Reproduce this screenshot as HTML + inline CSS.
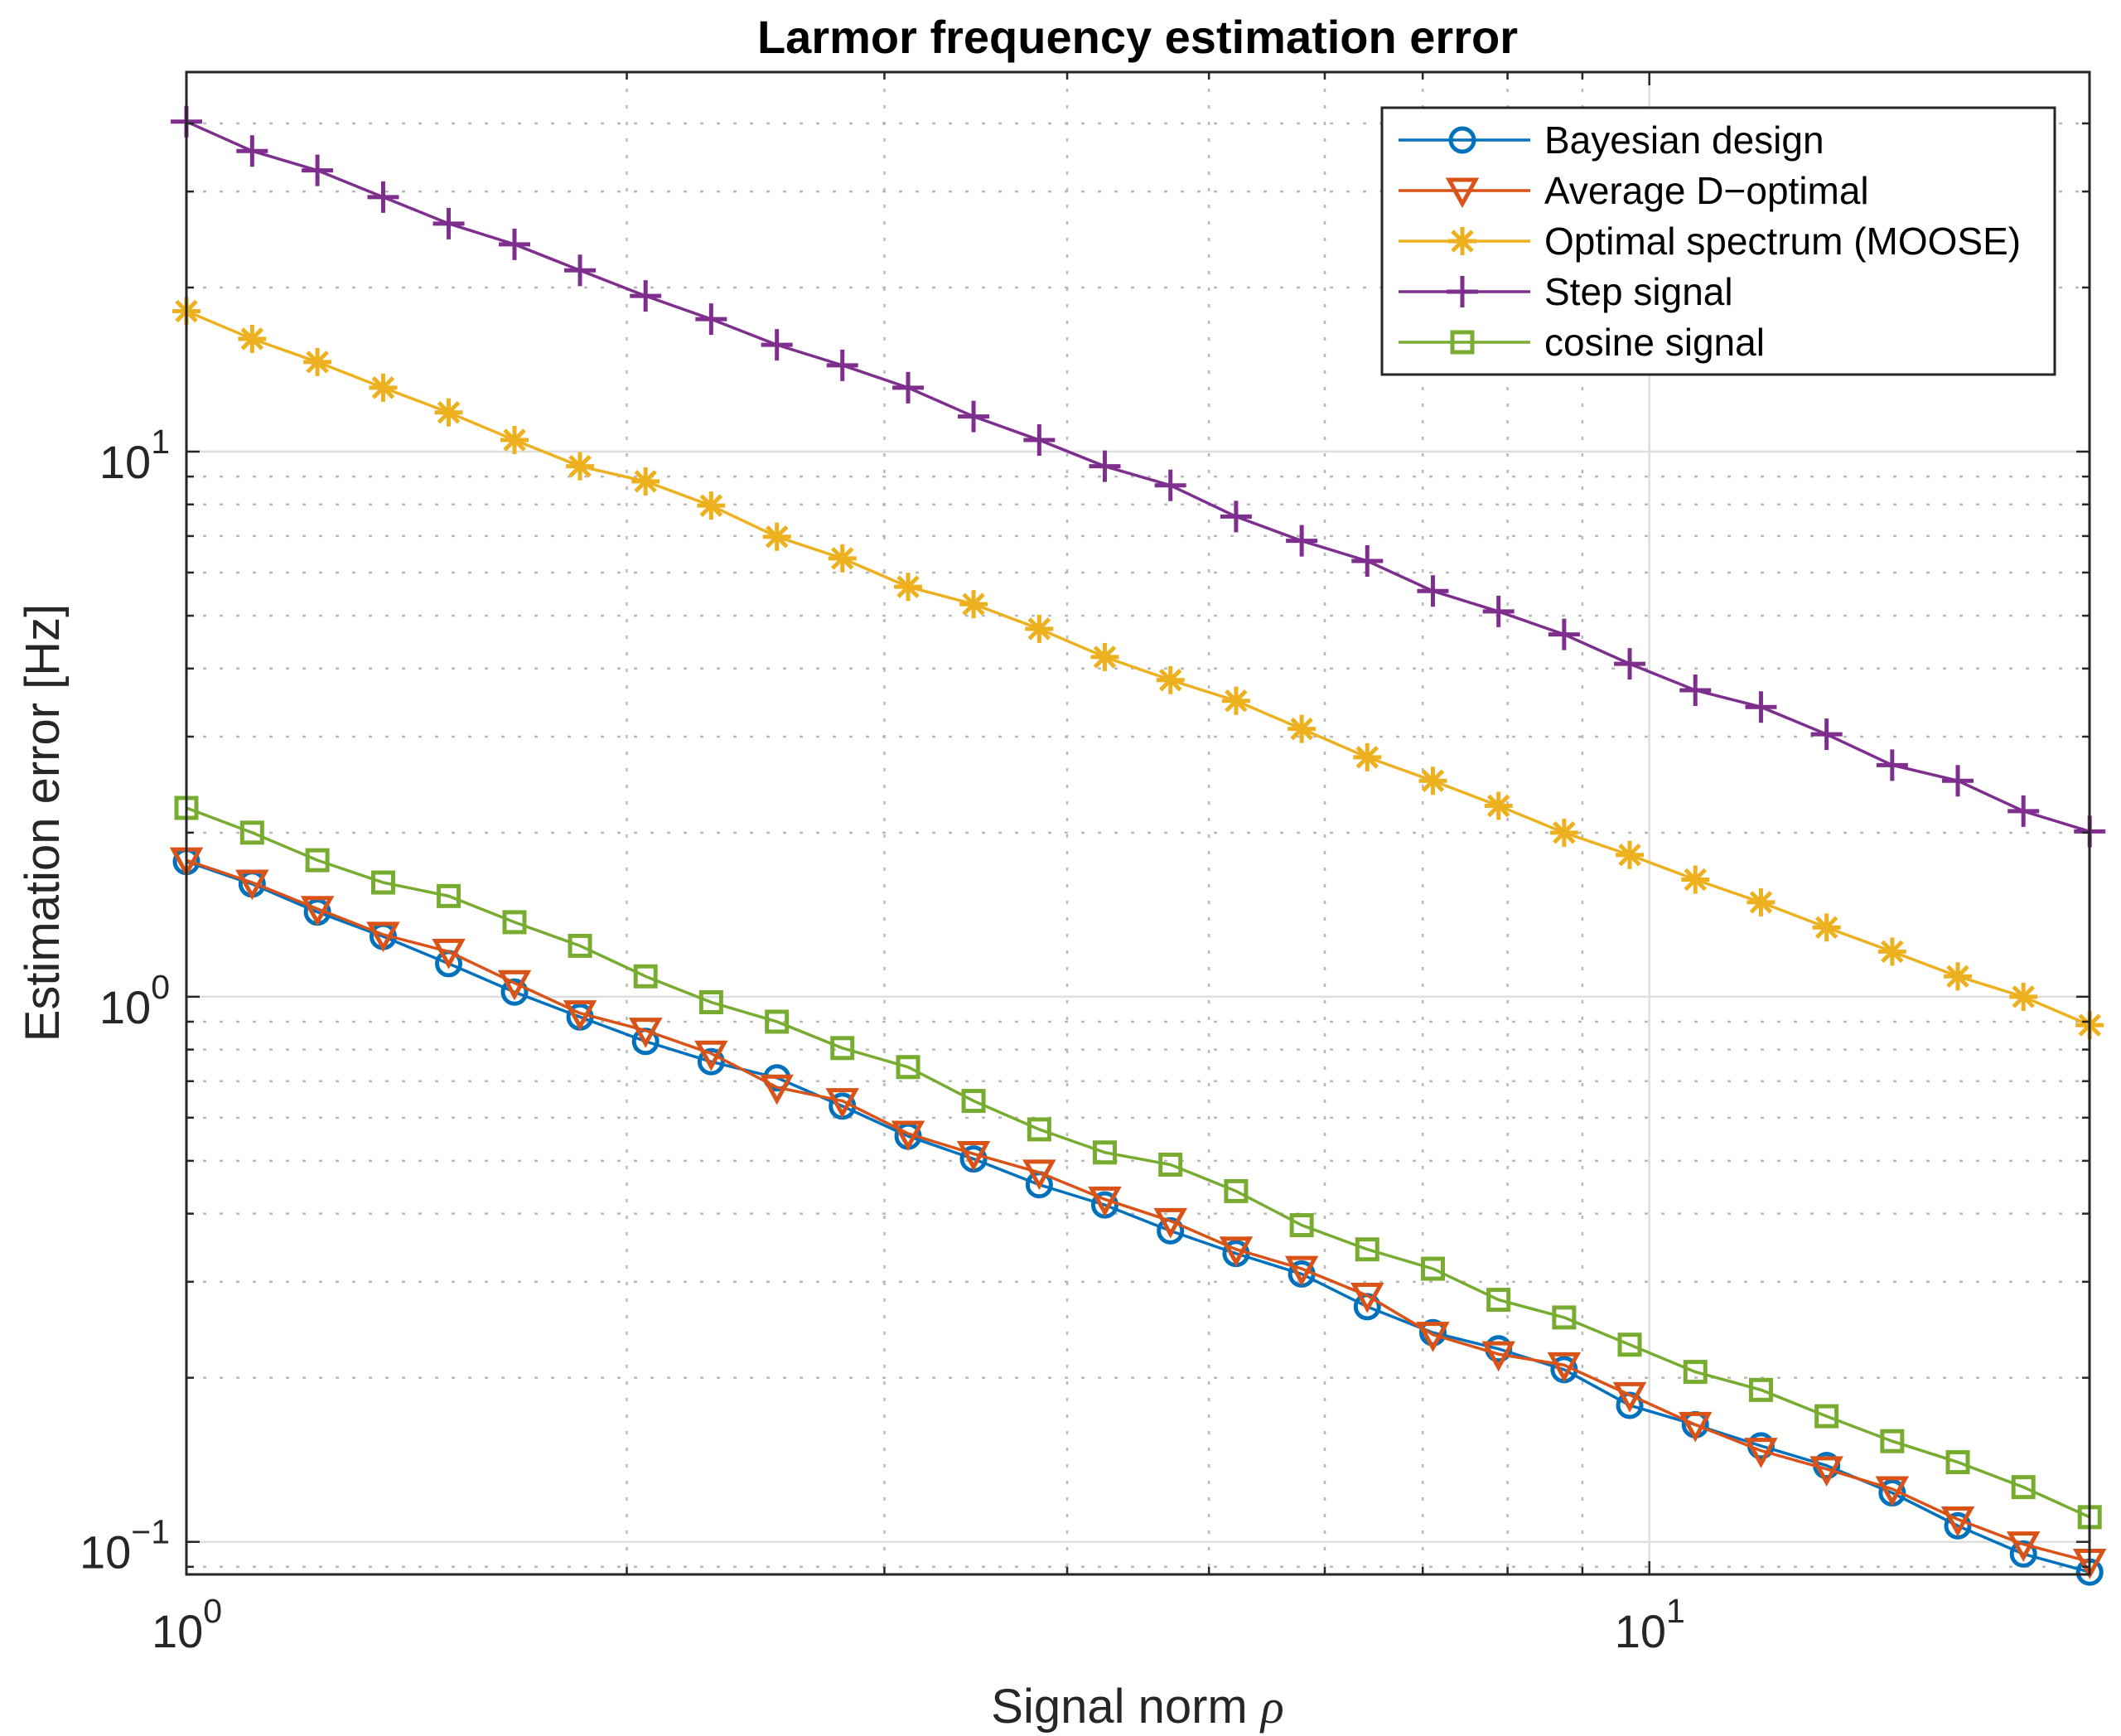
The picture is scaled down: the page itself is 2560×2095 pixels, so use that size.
<!DOCTYPE html>
<html><head><meta charset="utf-8">
<style>
html,body{margin:0;padding:0;background:#fff;}
svg{display:block;font-family:"Liberation Sans",Arial,sans-serif;}
</style></head>
<body>
<svg id="chart" width="2560" height="2095" viewBox="0 0 2560 2095" xmlns="http://www.w3.org/2000/svg">
<rect x="0" y="0" width="2560" height="2095" fill="#fff"/>
<g id="grid"></g>
<g id="series"></g>
<g id="axes"></g>
<text x="1373" y="64" text-anchor="middle" font-size="56" font-weight="bold" fill="#000">Larmor frequency estimation error</text>
<text x="1373" y="2079" text-anchor="middle" font-size="58" fill="#262626">Signal norm <tspan font-family="Liberation Serif, serif" font-style="italic">ρ</tspan></text>
<text transform="translate(71,993) rotate(-90)" text-anchor="middle" font-size="58" fill="#262626">Estimation error [Hz]</text>
<g id="legend"></g>
</svg>
<script>
const xValues = [1, 1.109, 1.229, 1.363, 1.511, 1.676, 1.858, 2.060, 2.284, 2.533, 2.808, 3.114, 3.452, 3.828, 4.244, 4.706, 5.218, 5.786, 6.415, 7.113, 7.887, 8.745, 9.696, 10.751, 11.921, 13.218, 14.656, 16.250, 18.018, 20];
const bayesian = [1.77,1.61,1.43,1.29,1.15,1.02,0.918,0.828,0.760,0.710,0.630,0.555,0.504,0.452,0.415,0.372,0.338,0.310,0.270,0.242,0.226,0.207,0.178,0.164,0.150,0.138,0.123,0.107,0.095,0.088];
const dOptimal = [1.78,1.62,1.45,1.30,1.21,1.06,0.933,0.867,0.787,0.682,0.644,0.561,0.515,0.476,0.425,0.388,0.344,0.317,0.283,0.240,0.221,0.211,0.186,0.164,0.147,0.136,0.125,0.110,0.099,0.092];
const moose = [18.1,16.1,14.6,13.1,11.8,10.5,9.4,8.82,7.96,6.98,6.37,5.65,5.25,4.73,4.20,3.81,3.49,3.10,2.75,2.49,2.24,2.00,1.82,1.64,1.49,1.34,1.21,1.09,1.0,0.887];
const stepSignal = [40.3,35.6,32.8,29.3,26.2,24.0,21.5,19.3,17.5,15.7,14.4,13.1,11.6,10.5,9.4,8.67,7.6,6.86,6.3,5.55,5.09,4.62,4.08,3.65,3.40,3.03,2.66,2.49,2.19,2.01];
const cosineSignal = [2.22,2.0,1.78,1.62,1.53,1.37,1.24,1.09,0.977,0.90,0.805,0.743,0.644,0.571,0.518,0.492,0.44,0.381,0.344,0.317,0.278,0.258,0.230,0.205,0.190,0.170,0.153,0.140,0.126,0.111];
const seriesNames = ["Bayesian design","Average D\u2212optimal","Optimal spectrum (MOOSE)","Step signal","cosine signal"];
const xTickValues = [1, 10];
const xTickExps = ["0", "1"];
const yTickValues = [0.1, 1, 10];
const yTickExps = ["\u22121", "0", "1"];

const NS = "http://www.w3.org/2000/svg";
const L = 225, R = 2522, T = 87, B = 1900;
const X0 = 225, XDEC = 1765.7;
const Y1 = 545, YDEC = 657.85;
function xs(v){ return X0 + Math.log10(v) * XDEC; }
function ys(v){ return Y1 - (Math.log10(v) - 1) * YDEC; }
function mk(tag, attrs, parent){ const e = document.createElementNS(NS, tag); for (const k in attrs) e.setAttribute(k, attrs[k]); parent.appendChild(e); return e; }

const grid = document.getElementById('grid');
const axes = document.getElementById('axes');
for (let d = 0; d <= 1; d++) for (let m = 2; m <= 9; m++) {
  const v = m * Math.pow(10, d); if (v >= 20) continue;
  const x = xs(v);
  const g = mk('line', {x1:x, x2:x, y1:T, y2:B, stroke:'#b8b8b8', 'stroke-width':2.5, 'stroke-dasharray':'4 16'}, grid);
  
  
  const t1 = mk('line', {x1:x, x2:x, y1:B, y2:B-9, stroke:'#262626', 'stroke-width':2.5}, axes);
  
  
  const t2 = mk('line', {x1:x, x2:x, y1:T, y2:T+9, stroke:'#262626', 'stroke-width':2.5}, axes);
  
  
}
for (let d = -2; d <= 1; d++) for (let m = 2; m <= 9; m++) {
  const v = m * Math.pow(10, d); const y = ys(v);
  if (y < T || y > B) continue;
  const g = mk('line', {x1:L, x2:R, y1:y, y2:y, stroke:'#b8b8b8', 'stroke-width':2.5, 'stroke-dasharray':'4 16'}, grid);
  
  
  const t1 = mk('line', {x1:L, x2:L+9, y1:y, y2:y, stroke:'#262626', 'stroke-width':2.5}, axes);
  
  
  const t2 = mk('line', {x1:R, x2:R-9, y1:y, y2:y, stroke:'#262626', 'stroke-width':2.5}, axes);
  
  
}
xTickValues.forEach((v, i) => {
  const x = xs(v);
  if (v > 1) {
    const g = mk('line', {x1:x, x2:x, y1:T, y2:B, stroke:'#dedede', 'stroke-width':2.5}, grid);
    
    
  }
  const t1 = mk('line', {x1:x, x2:x, y1:B, y2:B-16, stroke:'#262626', 'stroke-width':2.5}, axes);
  
  
  const t2 = mk('line', {x1:x, x2:x, y1:T, y2:T+16, stroke:'#262626', 'stroke-width':2.5}, axes);
  
  
  const lbl = mk('text', {x:x-42, y:1988, 'font-size':56, fill:'#262626'}, axes);
  
  
  lbl.textContent = '10';
  const sup = mk('tspan', {dy:-30, 'font-size':41}, lbl);
  sup.textContent = xTickExps[i];
});
yTickValues.forEach((v, i) => {
  const y = ys(v);
  const g = mk('line', {x1:L, x2:R, y1:y, y2:y, stroke:'#dedede', 'stroke-width':2.5}, grid);
  
  
  const t1 = mk('line', {x1:L, x2:L+16, y1:y, y2:y, stroke:'#262626', 'stroke-width':2.5}, axes);
  
  
  const t2 = mk('line', {x1:R, x2:R-16, y1:y, y2:y, stroke:'#262626', 'stroke-width':2.5}, axes);
  
  
  const lbl = mk('text', {x:205, y:y+32, 'font-size':56, fill:'#262626', 'text-anchor':'end'}, axes);
  
  
  const base = mk('tspan', {}, lbl); base.textContent = '10';
  const sup = mk('tspan', {dy:-30, 'font-size':41}, lbl); sup.textContent = yTickExps[i];
});
const box = mk('rect', {x:L, y:T, width:R-L, height:B-T, fill:'none', stroke:'#262626', 'stroke-width':3}, axes);



function marker(type, x, y, color, parent){
  let e;
  if (type === 'circle') e = mk('circle', {cx:x, cy:y, r:14, fill:'none', stroke:color, 'stroke-width':5}, parent);
  else if (type === 'tri') e = mk('path', {d:`M${x-16},${y-13} L${x+16},${y-13} L${x},${y+16} Z`, fill:'none', stroke:color, 'stroke-width':5, 'stroke-linejoin':'miter'}, parent);
  else if (type === 'star') e = mk('path', {d:`M${x-17},${y} L${x+17},${y} M${x},${y-17} L${x},${y+17} M${x-12},${y-12} L${x+12},${y+12} M${x-12},${y+12} L${x+12},${y-12}`, stroke:color, 'stroke-width':5}, parent);
  else if (type === 'plus') e = mk('path', {d:`M${x-19},${y} L${x+19},${y} M${x},${y-19} L${x},${y+19}`, stroke:color, 'stroke-width':5}, parent);
  else e = mk('rect', {x:x-12, y:y-12, width:24, height:24, fill:'none', stroke:color, 'stroke-width':5}, parent);
  return e;
}
const seriesData = [bayesian, dOptimal, moose, stepSignal, cosineSignal];
const colors = ['#0072BD','#D95319','#EDB120','#7E2F8E','#77AC30'];
const markerTypes = ['circle','tri','star','plus','square'];
const slugs = ['bayesian-design','average-d-optimal','optimal-spectrum-moose','step-signal','cosine-signal'];
const sg = document.getElementById('series');
[3,2,4,0,1].forEach(si => {
  const g = mk('g', {}, sg);
  
  
  const pts = seriesData[si].map((v, i) => xs(xValues[i]) + ',' + ys(v)).join(' ');
  const pl = mk('polyline', {points:pts, fill:'none', stroke:colors[si], 'stroke-width':3.5}, g);
  
  
  seriesData[si].forEach((v, i) => {
    const m = marker(markerTypes[si], xs(xValues[i]), ys(v), colors[si], g);
    
    
  });
});
const lg = document.getElementById('legend');
const lb = mk('rect', {x:1668, y:130, width:812, height:322, fill:'#fff', stroke:'#262626', 'stroke-width':3}, lg);


const legendY = [169, 230, 291, 352, 413];
seriesNames.forEach((name, i) => {
  const g = mk('g', {}, lg);
  
  
  const y = legendY[i];
  mk('line', {x1:1688, x2:1847, y1:y, y2:y, stroke:colors[i], 'stroke-width':3.5}, g);
  marker(markerTypes[i], 1765, y, colors[i], g);
  const t = mk('text', {x:1864, y:y+16, 'font-size':46, fill:'#000'}, g);
  t.textContent = name;
});
</script>
</body></html>
